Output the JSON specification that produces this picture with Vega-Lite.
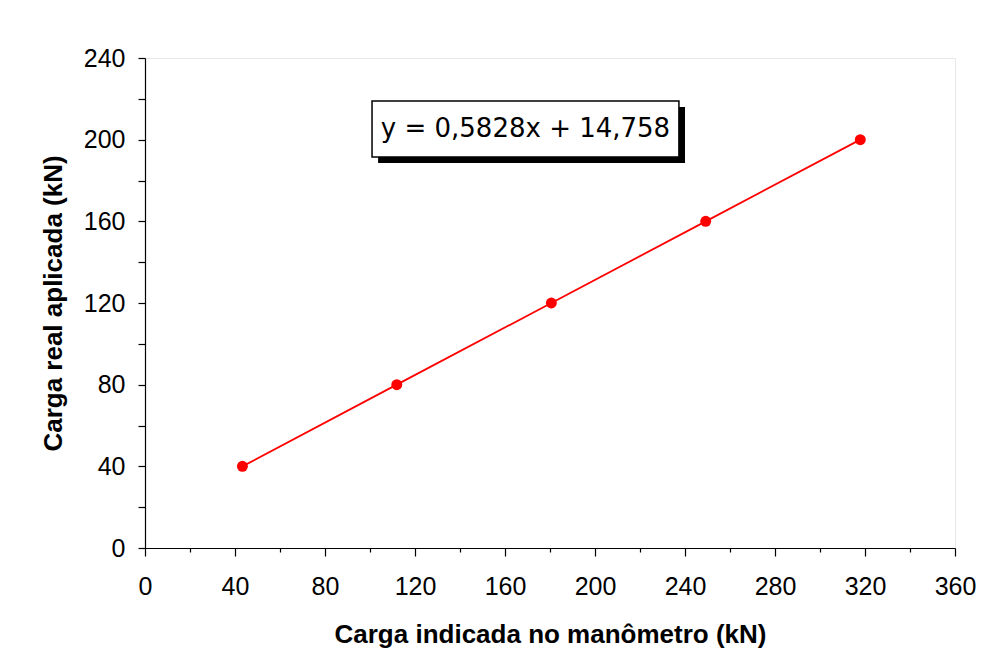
{
  "$schema": "https://vega.github.io/schema/vega-lite/v6.json",
  "autosize": "none",
  "padding": {"left": 145, "top": 58, "right": 32, "bottom": 123},
  "width": 810,
  "height": 490,
  "background": "white",
  "config": {
    "view": {"stroke": "#e8e8e8", "strokeWidth": 1},
    "font": "Liberation Sans",
    "axis": {"labelFont": "Liberation Sans", "titleFont": "Liberation Sans", "labelColor": "black", "titleColor": "black", "domainColor": "black", "tickColor": "black", "grid": false}
  },
  "layer": [
    {
      "data": {"values": [{"label": "y = 0,5828x + 14,758"}]},
      "mark": {"type": "rect", "fill": "black"},
      "encoding": {
        "x": {"datum": 103.6, "type": "quantitative", "scale": {"domain": [0, 360], "nice": false}},
        "x2": {"datum": 240.0},
        "y": {"datum": 188.6, "type": "quantitative", "scale": {"domain": [0, 240], "nice": false}},
        "y2": {"datum": 216.0}
      }
    },
    {
      "data": {"values": [{"label": "y = 0,5828x + 14,758"}]},
      "mark": {"type": "rect", "fill": "white", "stroke": "black", "strokeWidth": 1.5},
      "encoding": {
        "x": {"datum": 100.9, "type": "quantitative"},
        "x2": {"datum": 237.3},
        "y": {"datum": 191.5, "type": "quantitative"},
        "y2": {"datum": 218.9}
      }
    },
    {
      "data": {"values": [{"label": "y = 0,5828x + 14,758"}]},
      "mark": {"type": "text", "font": "DejaVu Sans", "fontSize": 26, "fontWeight": 400, "fill": "#000000", "align": "center", "baseline": "middle"},
      "encoding": {
        "x": {"datum": 169.1, "type": "quantitative"},
        "y": {"datum": 205.2, "type": "quantitative"},
        "text": {"field": "label", "type": "nominal"}
      }
    },
    {
      "data": {"values": [
        {"x": 43.3, "y": 40},
        {"x": 111.9, "y": 80},
        {"x": 180.6, "y": 120},
        {"x": 249.2, "y": 160},
        {"x": 317.9, "y": 200}
      ]},
      "mark": {"type": "line", "color": "#ff0000", "strokeWidth": 1.8, "point": {"filled": true, "color": "#ff0000", "size": 120, "opacity": 1}},
      "encoding": {
        "x": {
          "field": "x", "type": "quantitative",
          "scale": {"domain": [0, 360], "nice": false},
          "axis": {
            "title": "Carga indicada no manômetro (kN)",
            "titleFontSize": 26, "titleFontWeight": "bold", "titlePadding": 22,
            "values": [0,10,20,30,40,50,60,70,80,90,100,110,120,130,140,150,160,170,180,190,200,210,220,230,240,250,260,270,280,290,300,310,320,330,340,350,360],
            "labelExpr": "datum.value % 40 === 0 ? datum.label : ''",
            "labelOverlap": false, "labelBound": false, "labelFlush": false,
            "labelFontSize": 25, "labelPadding": 18,
            "tickSize": {"condition": {"test": "datum.value % 40 === 0", "value": 8}, "value": 4},
            "tickWidth": 1.2, "domainWidth": 1.2
          }
        },
        "y": {
          "field": "y", "type": "quantitative",
          "scale": {"domain": [0, 240], "nice": false},
          "axis": {
            "title": "Carga real aplicada (kN)",
            "titleFontSize": 26, "titleFontWeight": "bold", "titlePadding": 17,
            "values": [0,10,20,30,40,50,60,70,80,90,100,110,120,130,140,150,160,170,180,190,200,210,220,230,240],
            "labelExpr": "datum.value % 40 === 0 ? datum.label : ''",
            "labelOverlap": false, "labelBound": false, "labelFlush": false,
            "labelFontSize": 25, "labelPadding": 13,
            "tickSize": 7,
            "tickWidth": 1.2, "domainWidth": 1.2
          }
        }
      }
    }
  ]
}
